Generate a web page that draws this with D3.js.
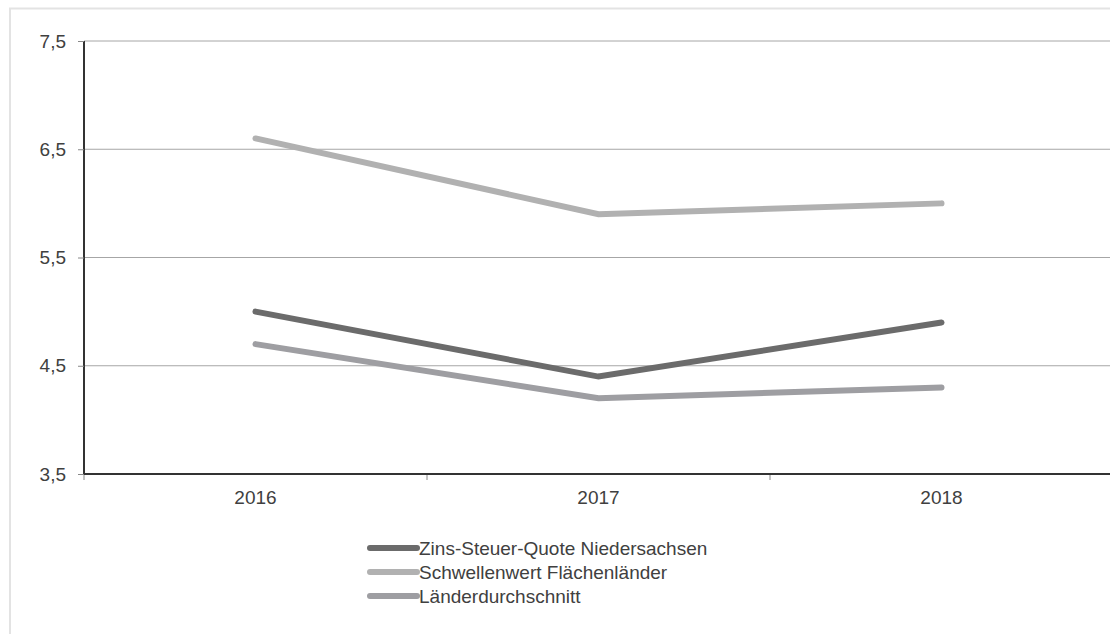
<!DOCTYPE html>
<html>
<head>
<meta charset="utf-8">
<script src="https://cdn.jsdelivr.net/npm/d3@7"></script>
<style>
  body { margin: 0; background: #fff; }
  svg { display: block; font-family: "Liberation Sans", Arial, sans-serif; }
</style>
</head>
<body>
<div id="chart"></div>
<script>
// data
const years = ["2016", "2017", "2018"];
const zinsSteuerQuote = [5.0, 4.4, 4.9];
const schwellenwert = [6.6, 5.9, 6.0];
const laenderschnitt = [4.7, 4.2, 4.3];
const yTicks = [3.5, 4.5, 5.5, 6.5, 7.5];

const series = [
  { name: "Zins-Steuer-Quote Niedersachsen", values: zinsSteuerQuote, color: "#6b6b6b" },
  { name: "Schwellenwert Flächenländer", values: schwellenwert, color: "#b1b1b1" },
  { name: "Länderdurchschnitt", values: laenderschnitt, color: "#9e9ea2" }
];

const W = 1110, H = 634;
const margin = { top: 41, left: 84, bottom: 160 };
const plotW = 343 * 3, plotH = 433;

const svg = d3.select("#chart").append("svg")
  .attr("width", W).attr("height", H);

// outer frame (left + top only visible)
svg.append("path")
  .attr("d", `M10,${H} V8.5 H${W}`)
  .attr("fill", "none")
  .attr("stroke", "#e3e3e3")
  .attr("stroke-width", 2);

const g = svg.append("g").attr("transform", `translate(${margin.left},${margin.top})`);

const x = d3.scaleBand().domain(years).range([0, plotW]);
const y = d3.scaleLinear().domain([3.5, 7.5]).range([plotH, 0]);

// gridlines
g.append("g").selectAll("line")
  .data(yTicks.filter(d => d !== 3.5))
  .join("line")
  .attr("x1", 0).attr("x2", plotW)
  .attr("y1", d => y(d)).attr("y2", d => y(d))
  .attr("stroke", "#a6a6a6").attr("stroke-width", 1);

// y axis
const yAxis = g.append("g")
  .call(d3.axisLeft(y).tickValues(yTicks).tickSize(6).tickPadding(12)
    .tickFormat(d => d3.format(".1f")(d).replace(".", ",")));
yAxis.select(".domain").attr("stroke", "#333").attr("stroke-width", 2)
  .attr("d", `M0,0V${plotH}`);
yAxis.selectAll(".tick line").attr("stroke", "#888");
yAxis.selectAll("text")
  .style("font-size", "19px").style("fill", "#404040")
  .style("font-family", "'Liberation Sans', Arial, sans-serif");

// x axis
const xAxis = g.append("g").attr("transform", `translate(0,${plotH})`)
  .call(d3.axisBottom(x).tickSize(0).tickPadding(17));
xAxis.select(".domain").attr("stroke", "#333").attr("stroke-width", 2)
  .attr("d", `M0,0H${plotW}`);
xAxis.selectAll("text")
  .style("font-size", "19px").style("fill", "#404040")
  .style("font-family", "'Liberation Sans', Arial, sans-serif");
// band separators
xAxis.append("g").selectAll("line")
  .data(years)
  .join("line")
  .attr("x1", d => x(d)).attr("x2", d => x(d))
  .attr("y1", 1).attr("y2", 6)
  .attr("stroke", "#888");

// lines
const line = d3.line()
  .x((d, i) => x(years[i]) + x.bandwidth() / 2)
  .y(d => y(d));

g.selectAll(".series")
  .data(series)
  .join("path")
  .attr("class", "series")
  .attr("d", d => line(d.values))
  .attr("fill", "none")
  .attr("stroke", d => d.color)
  .attr("stroke-width", 6)
  .attr("stroke-linecap", "round")
  .attr("stroke-linejoin", "miter");

// legend
const legend = svg.append("g").attr("transform", "translate(370,548)");
const items = legend.selectAll("g")
  .data(series)
  .join("g")
  .attr("transform", (d, i) => `translate(0,${i * 24})`);
items.append("line")
  .attr("x1", 0).attr("x2", 47)
  .attr("stroke", d => d.color)
  .attr("stroke-width", 6)
  .attr("stroke-linecap", "round");
items.append("text")
  .attr("x", 49).attr("y", 7)
  .style("font-size", "19px")
  .style("fill", "#404040")
  .text(d => d.name);
</script>
</body>
</html>
